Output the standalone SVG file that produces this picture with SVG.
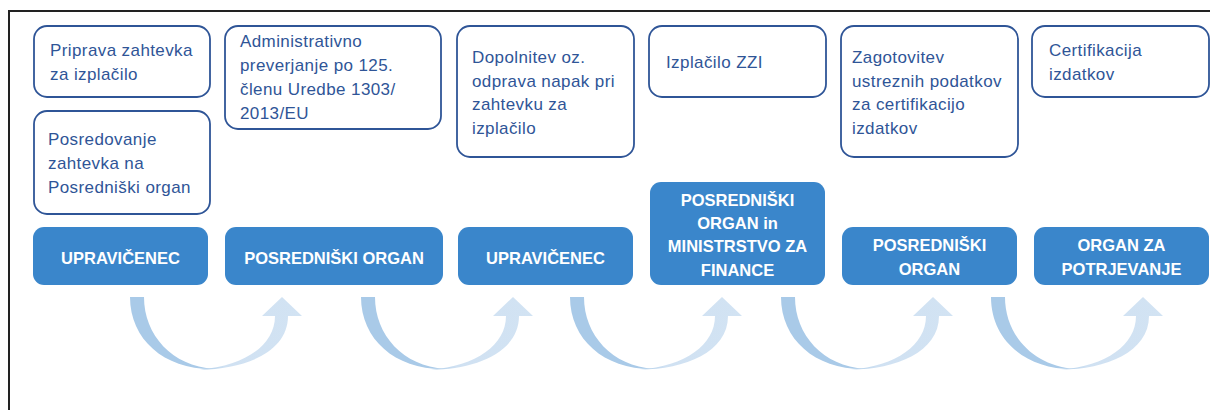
<svg xmlns="http://www.w3.org/2000/svg" width="1210" height="410" viewBox="0 0 1210 410">
<style>
.wb{fill:#ffffff;stroke:#2F5597;stroke-width:1.8}
.wt{font-family:"Liberation Sans",Arial,sans-serif;font-size:17px;fill:#2F5597;letter-spacing:0.4px}
.bb{fill:#3A86CB}
.bt{font-family:"Liberation Sans",Arial,sans-serif;font-size:16.5px;font-weight:bold;fill:#ffffff;text-anchor:middle}
.frame{stroke:#222222;stroke-width:2;fill:none}
</style>
<defs>
<linearGradient id="rg" x1="0" y1="0" x2="1" y2="0">
<stop offset="0" stop-color="#A9CAE8"/>
<stop offset="0.25" stop-color="#D0E1F2"/>
<stop offset="1" stop-color="#D2E3F3"/>
</linearGradient>
<g id="arr">
<path d="M130,297 L144,297 C144,335 172,366 214,369 C165,370 130,340 130,297 Z" fill="#A9CAE8"/>
<path d="M200,369.5 C245,369.5 288,352 288,316 L302,316 L282,297 L262,316 L275,316 C275,345 245,366 200,369.5 Z" fill="url(#rg)"/>
</g>
</defs>
<path class="frame" d="M9,410 L9,11 L1210,11"/>
<g id="connectors">
<use href="#arr"/>
<use href="#arr" transform="translate(231,0)"/>
<use href="#arr" transform="translate(440,0)"/>
<use href="#arr" transform="translate(651,0)"/>
<use href="#arr" transform="translate(861,0)"/>
</g>
<g id="note1">
<rect class="wb" x="34" y="26" width="176" height="71" rx="13"/>
<text class="wt" x="50" y="56">Priprava zahtevka</text>
<text class="wt" x="50" y="80">za izplačilo</text>
</g>
<g id="note1b">
<rect class="wb" x="34" y="111" width="176" height="103" rx="13"/>
<text class="wt" x="48" y="145">Posredovanje</text>
<text class="wt" x="48" y="169">zahtevka na</text>
<text class="wt" x="48" y="193">Posredniški organ</text>
</g>
<g id="note2">
<rect class="wb" x="225" y="26" width="216" height="103" rx="13"/>
<text class="wt" x="240" y="47">Administrativno</text>
<text class="wt" x="240" y="71">preverjanje po 125.</text>
<text class="wt" x="240" y="95">členu Uredbe 1303/</text>
<text class="wt" x="240" y="119">2013/EU</text>
</g>
<g id="note3">
<rect class="wb" x="457" y="26" width="177" height="131" rx="13"/>
<text class="wt" x="472" y="63">Dopolnitev oz.</text>
<text class="wt" x="472" y="87">odprava napak pri</text>
<text class="wt" x="472" y="110">zahtevku za</text>
<text class="wt" x="472" y="134">izplačilo</text>
</g>
<g id="note4">
<rect class="wb" x="649" y="26" width="177" height="71" rx="13"/>
<text class="wt" x="666" y="68">Izplačilo ZZI</text>
</g>
<g id="note5">
<rect class="wb" x="841" y="26" width="177" height="131" rx="13"/>
<text class="wt" x="852" y="63">Zagotovitev</text>
<text class="wt" x="852" y="87">ustreznih podatkov</text>
<text class="wt" x="852" y="110">za certifikacijo</text>
<text class="wt" x="852" y="134">izdatkov</text>
</g>
<g id="note6">
<rect class="wb" x="1032" y="26" width="177" height="71" rx="13"/>
<text class="wt" x="1049" y="56">Certifikacija</text>
<text class="wt" x="1049" y="80">izdatkov</text>
</g>
<g id="actor1">
<rect class="bb" x="33" y="227" width="175" height="58" rx="11"/>
<text class="bt" x="120.5" y="264">UPRAVIČENEC</text>
</g>
<g id="actor2">
<rect class="bb" x="225" y="227" width="218" height="58" rx="11"/>
<text class="bt" x="334" y="264">POSREDNIŠKI ORGAN</text>
</g>
<g id="actor3">
<rect class="bb" x="458" y="227" width="175" height="58" rx="11"/>
<text class="bt" x="545.5" y="264">UPRAVIČENEC</text>
</g>
<g id="actor4">
<rect class="bb" x="650" y="182" width="175" height="103" rx="11"/>
<text class="bt" x="737.5" y="206">POSREDNIŠKI</text>
<text class="bt" x="737.5" y="229">ORGAN in</text>
<text class="bt" x="737.5" y="252">MINISTRSTVO ZA</text>
<text class="bt" x="737.5" y="276">FINANCE</text>
</g>
<g id="actor5">
<rect class="bb" x="842" y="227" width="175" height="58" rx="11"/>
<text class="bt" x="929.5" y="251">POSREDNIŠKI</text>
<text class="bt" x="929.5" y="275">ORGAN</text>
</g>
<g id="actor6">
<rect class="bb" x="1034" y="227" width="175" height="58" rx="11"/>
<text class="bt" x="1121.5" y="251">ORGAN ZA</text>
<text class="bt" x="1121.5" y="275">POTRJEVANJE</text>
</g>
</svg>
